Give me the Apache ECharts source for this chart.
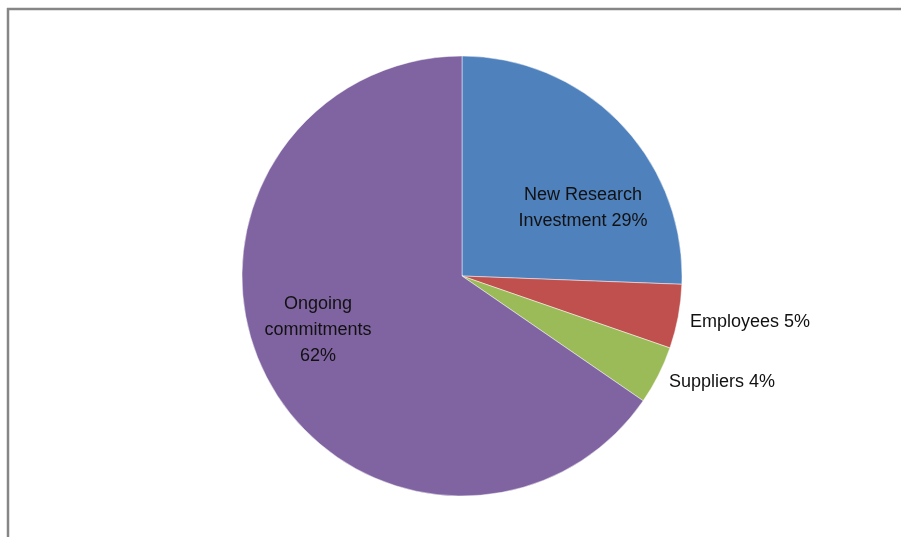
<!DOCTYPE html>
<html>
<head>
<meta charset="utf-8">
<script src="https://cdn.jsdelivr.net/npm/echarts@6/dist/echarts.min.js"></script>
<style>
  html, body { margin: 0; padding: 0; background: #fff; }
  #chart-container { width: 901px; height: 537px; }
</style>
</head>
<body>
<div id="chart-container"></div>
<script>
// slice sizes as drawn, and the texts printed on them
const categories = ['New Research\nInvestment', 'Employees', 'Suppliers', 'Ongoing\ncommitments'];
const values = [25.6, 4.7, 4.3, 65.4];
const shownPercents = ['29%', '5%', '4%', '62%'];
const colors = ['#4F81BD', '#C0504D', '#9BBB59', '#8064A2'];

// where each label sits (Excel-style placement)
const labelSpots = [
  { x: 583, y: 208, align: 'center' },
  { x: 690, y: 322, align: 'left' },
  { x: 669, y: 382, align: 'left' },
  { x: 318, y: 330, align: 'center' }
];

var dom = document.getElementById('chart-container');
var myChart = echarts.init(dom, null, { renderer: 'canvas' });

var option = {
  animation: false,
  backgroundColor: '#fff',
  graphic: [
    { type: 'line', shape: { x1: 7, y1: 9, x2: 901, y2: 9 }, style: { stroke: '#868686', lineWidth: 2.5 } },
    { type: 'line', shape: { x1: 8, y1: 8, x2: 8, y2: 537 }, style: { stroke: '#868686', lineWidth: 2.5 } }
  ],
  series: [{
    type: 'pie',
    center: [462, 276],
    radius: 220,
    startAngle: 90,
    clockwise: true,
    itemStyle: { borderColor: 'rgba(255,255,255,0.6)', borderWidth: 0.8 },
    label: {
      show: true,
      position: 'inside',
      color: '#111',
      fontFamily: 'Liberation Sans',
      fontSize: 18,
      lineHeight: 26,
      formatter: p => {
        const i = p.dataIndex;
        if (i === 3) return categories[i] + '\n' + shownPercents[i];
        return categories[i] + ' ' + shownPercents[i];
      }
    },
    labelLine: { show: false },
    labelLayout: p => Object.assign({ verticalAlign: 'middle' }, labelSpots[p.dataIndex]),
    emphasis: { disabled: true },
    data: categories.map((c, i) => ({
      name: c,
      value: values[i],
      itemStyle: { color: colors[i] }
    }))
  }]
};

myChart.setOption(option);
window.addEventListener('resize', myChart.resize);
</script>
</body>
</html>
